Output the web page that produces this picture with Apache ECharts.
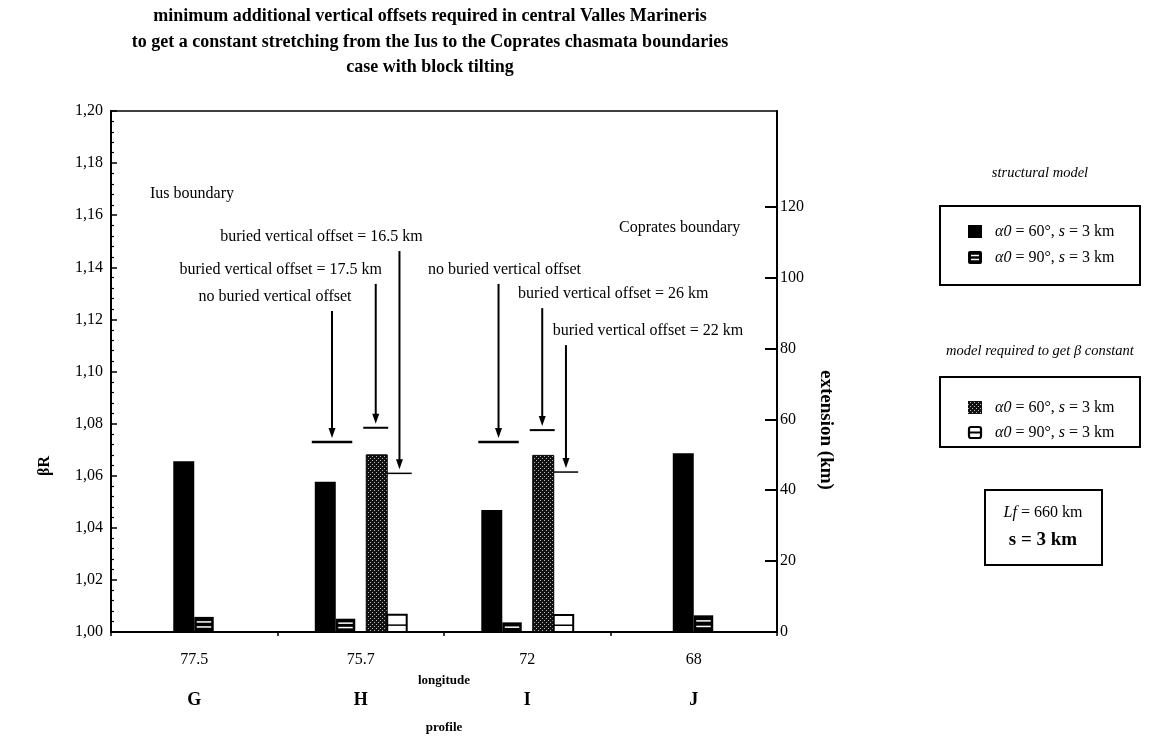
<!DOCTYPE html>
<html>
<head>
<meta charset="utf-8">
<script src="https://cdn.jsdelivr.net/npm/echarts@6/dist/echarts.min.js"></script>
<style>
  html, body { margin: 0; padding: 0; background: #fff; }
  #chart { width: 1156px; height: 747px; }
</style>
</head>
<body>
<div id="chart"></div>
<script>
const SERIF = '"Liberation Serif", "Times New Roman", serif';

// ---- data ----------------------------------------------------------------
const longitudes = ['77.5', '75.7', '72', '68'];
const profiles = ['G', 'H', 'I', 'J'];

// βR of the structural model (s = 3 km)
const structural60 = [1.0655, 1.0577, 1.0468, 1.0686];   // α0 = 60°
const structural90 = [1.0058, 1.0051, 1.0037, 1.0064];   // α0 = 90°

// βR of the model required to get β constant (profiles H and I only)
const required60 = [null, 1.0680, 1.0678, null];          // α0 = 60°
const required90 = [null, 1.0066, 1.0065, null];          // α0 = 90°

// βR levels reached without / with a buried vertical offset
const levelNoOffset = [null, 1.0729, 1.0729, null];
const levelOffset60 = [null, 1.0784, 1.0775, null];
const levelOffset90 = [null, 1.0609, 1.0614, null];
const buriedOffset60 = [null, 17.5, 26, null];            // km
const buriedOffset90 = [null, 16.5, 22, null];            // km

// axis ticks
const betaMin = 1.00, betaMax = 1.20, betaStep = 0.02;
const extensionTicks = [0, 20, 40, 60, 80, 100, 120];     // km
const extensionMax = 147;

// ---- callout placement: βR level of the text, shift of the text from its arrow (px)
const calloutPlacement = {
  '1-pair':  { textLevel: 1.1286, dx: -57 },
  '1-req60': { textLevel: 1.1390, dx: -95 },
  '1-req90': { textLevel: 1.1516, dx: -78 },
  '2-pair':  { textLevel: 1.1390, dx: 6 },
  '2-req60': { textLevel: 1.1297, dx: 71 },
  '2-req90': { textLevel: 1.1155, dx: 82 }
};

const callouts = [];
profiles.forEach((p, i) => {
  if (levelNoOffset[i] == null) return;
  callouts.push({ cat: i, slot: 'pair', level: levelNoOffset[i], text: 'no buried vertical offset' });
  callouts.push({ cat: i, slot: 'req60', level: levelOffset60[i], text: 'buried vertical offset = ' + buriedOffset60[i] + ' km' });
  callouts.push({ cat: i, slot: 'req90', level: levelOffset90[i], text: 'buried vertical offset = ' + buriedOffset90[i] + ' km' });
});

// ---- fill patterns -------------------------------------------------------
function makePattern(size, draw) {
  const c = document.createElement('canvas');
  c.width = size; c.height = size;
  draw(c.getContext('2d'), size);
  return { image: c, repeat: 'repeat' };
}
const dotPattern = makePattern(4, (ctx) => {
  ctx.fillStyle = '#111'; ctx.fillRect(0, 0, 4, 4);
  ctx.fillStyle = '#bbb'; ctx.fillRect(0, 0, 1, 1); ctx.fillRect(2, 2, 1, 1);
});

// ---- bar slot geometry inside a category band ----------------------------
function slots(api, i) {
  const band = api.size([1, 0])[0];
  const cx = api.coord([i, betaMin])[0];
  const w60 = band * 0.126, w90 = band * 0.117, gap = band * 0.066;
  const paired = required60[i] != null;
  const a = paired ? cx - gap / 2 - w90 - w60 : cx - w60;
  const c = cx + gap / 2;
  return {
    a: [a, w60], b: [a + w60, w90],
    c: [c, w60], d: [c + w60, w90]
  };
}

function stripedBar(x, y, w, h) {
  const kids = [{ type: 'rect', shape: { x, y, width: w, height: h }, style: { fill: '#000' } }];
  const n = Math.max(1, Math.round(h / 7));
  for (let k = 1; k <= n; k++) {
    const ly = y + (k * h) / (n + 1);
    kids.push({ type: 'line', shape: { x1: x + 2.5, y1: ly, x2: x + w - 2.5, y2: ly },
      style: { stroke: '#fff', lineWidth: 1.5 } });
  }
  return kids;
}

function openBar(x, y, w, h) {
  return [
    { type: 'rect', shape: { x, y, width: w, height: h }, style: { fill: '#fff', stroke: '#000', lineWidth: 2 } },
    { type: 'line', shape: { x1: x, y1: y + h * 0.6, x2: x + w, y2: y + h * 0.6 }, style: { stroke: '#000', lineWidth: 1.5 } }
  ];
}

function renderStructural(params, api) {
  const i = api.value(0);
  const s = slots(api, i);
  const base = api.coord([i, betaMin])[1];
  const y60 = api.coord([i, api.value(1)])[1];
  const y90 = api.coord([i, api.value(2)])[1];
  return {
    type: 'group',
    children: [
      { type: 'rect', shape: { x: s.a[0], y: y60, width: s.a[1], height: base - y60 }, style: { fill: '#000' } }
    ].concat(stripedBar(s.b[0], y90, s.b[1], base - y90))
  };
}

function renderRequired(params, api) {
  const i = api.value(0);
  const s = slots(api, i);
  const base = api.coord([i, betaMin])[1];
  const y60 = api.coord([i, api.value(1)])[1];
  const y90 = api.coord([i, api.value(2)])[1];
  return {
    type: 'group',
    children: [
      { type: 'rect', shape: { x: s.c[0], y: y60, width: s.c[1], height: base - y60 },
        style: { fill: dotPattern, stroke: '#000', lineWidth: 1 } }
    ].concat(openBar(s.d[0], y90, s.d[1], base - y90))
  };
}

function renderCallout(params, api) {
  const co = callouts[params.dataIndex];
  const place = calloutPlacement[co.cat + '-' + co.slot];
  const s = slots(api, co.cat);
  const y = api.coord([co.cat, co.level])[1];
  let x1, x2, lw;
  if (co.slot === 'pair') {
    x1 = s.a[0] - 3; x2 = s.b[0] + s.b[1] - 3; lw = 2.5;
  } else if (co.slot === 'req60') {
    x1 = s.c[0] - 3; x2 = s.c[0] + s.c[1] + 1; lw = 2;
  } else {
    x1 = s.d[0]; x2 = s.d[0] + s.d[1] + 5; lw = 1.5;
  }
  const ax = (x1 + x2) / 2;
  const ty = api.coord([co.cat, place.textLevel])[1];
  const top = ty + 14;
  const tip = y - 4;
  return {
    type: 'group',
    children: [
      { type: 'line', shape: { x1, y1: y, x2, y2: y }, style: { stroke: '#000', lineWidth: lw } },
      { type: 'line', shape: { x1: ax, y1: top, x2: ax, y2: tip - 8 }, style: { stroke: '#000', lineWidth: 2 } },
      { type: 'polygon', shape: { points: [[ax - 3.5, tip - 10], [ax + 3.5, tip - 10], [ax, tip]] }, style: { fill: '#000' } },
      { type: 'text', style: { text: co.text, x: ax + place.dx, y: ty, align: 'center', verticalAlign: 'middle',
          fontFamily: SERIF, fontSize: 16, fill: '#000' } }
    ]
  };
}

// ---- legend pieces -------------------------------------------------------
const itemRich = { i: { fontStyle: 'italic', fontFamily: SERIF, fontSize: 16, fill: '#000' } };
function legendText(x, y, text) {
  return { type: 'text', x, y, style: { text, rich: itemRich, fontFamily: SERIF, fontSize: 16,
    fill: '#000', verticalAlign: 'middle' } };
}
function iconSolid(x, y) {
  return { type: 'rect', shape: { x, y, width: 14, height: 13 }, style: { fill: '#000' } };
}
function iconStriped(x, y) {
  return { type: 'group', children: [
    { type: 'rect', shape: { x, y, width: 14, height: 13, r: 2 }, style: { fill: '#000' } },
    { type: 'line', shape: { x1: x + 3, y1: y + 4.5, x2: x + 11, y2: y + 4.5 }, style: { stroke: '#fff', lineWidth: 1.5 } },
    { type: 'line', shape: { x1: x + 3, y1: y + 8.5, x2: x + 11, y2: y + 8.5 }, style: { stroke: '#fff', lineWidth: 1.5 } }
  ] };
}
function iconDotted(x, y) {
  return { type: 'rect', shape: { x, y, width: 14, height: 13 }, style: { fill: dotPattern } };
}
function iconOpen(x, y) {
  return { type: 'group', children: [
    { type: 'rect', shape: { x: x + 1, y: y + 1, width: 12, height: 11, r: 2 }, style: { fill: '#fff', stroke: '#000', lineWidth: 2.2 } },
    { type: 'line', shape: { x1: x + 1, y1: y + 6.5, x2: x + 13, y2: y + 6.5 }, style: { stroke: '#000', lineWidth: 2 } }
  ] };
}

const chart = echarts.init(document.getElementById('chart'), null, { renderer: 'canvas' });

const axisColor = '#000';
chart.setOption({
  backgroundColor: '#fff',
  animation: false,
  title: {
    text: 'minimum additional vertical offsets required in central Valles Marineris\n' +
          'to get a constant stretching from the Ius to the Coprates chasmata boundaries\n' +
          'case with block tilting',
    left: 430, top: 4, padding: 0, textAlign: 'center',
    textStyle: { fontFamily: SERIF, fontSize: 18, fontWeight: 'bold', color: '#000', lineHeight: 25.5 }
  },
  grid: {
    left: 111, right: 379, top: 111, bottom: 115,
    show: true, borderColor: '#000', borderWidth: 1.5, backgroundColor: 'transparent'
  },
  xAxis: [
    {
      type: 'category', data: longitudes, position: 'bottom',
      axisLine: { lineStyle: { color: axisColor, width: 2 } },
      axisTick: { show: true, length: 4, lineStyle: { color: axisColor, width: 1.5 } },
      axisLabel: { margin: 20, color: '#000', fontFamily: SERIF, fontSize: 16 },
      splitLine: { show: false },
      name: 'longitude', nameLocation: 'middle', nameGap: 42,
      nameTextStyle: { fontFamily: SERIF, fontSize: 13, fontWeight: 'bold', color: '#000' }
    },
    {
      type: 'category', data: profiles, position: 'bottom',
      axisLine: { show: false }, axisTick: { show: false },
      axisLabel: { margin: 59, color: '#000', fontFamily: SERIF, fontSize: 18, fontWeight: 'bold' },
      splitLine: { show: false },
      name: 'profile', nameLocation: 'middle', nameGap: 89,
      nameTextStyle: { fontFamily: SERIF, fontSize: 13, fontWeight: 'bold', color: '#000' }
    }
  ],
  yAxis: [
    {
      type: 'value', position: 'left', min: betaMin, max: betaMax, interval: betaStep,
      axisLine: { show: true, lineStyle: { color: axisColor, width: 2 } },
      axisTick: { show: true, inside: true, length: 6, lineStyle: { color: axisColor, width: 1.5 } },
      minorTick: { show: true, splitNumber: 5, length: 3, lineStyle: { color: axisColor, width: 1.2 } },
      splitLine: { show: false },
      axisLabel: { margin: 8, color: '#000', fontFamily: SERIF, fontSize: 16,
        formatter: (v) => v.toFixed(2).replace('.', ',') }
    },
    {
      type: 'value', position: 'right', min: 0, max: extensionMax,
      axisLine: { show: true, lineStyle: { color: axisColor, width: 2 } },
      axisTick: { show: true, inside: true, length: 12, customValues: extensionTicks,
        lineStyle: { color: axisColor, width: 2 } },
      splitLine: { show: false },
      axisLabel: { margin: 3, color: '#000', fontFamily: SERIF, fontSize: 16, customValues: extensionTicks }
    }
  ],
  series: [
    {
      name: 'structural model', type: 'custom', xAxisIndex: 0, yAxisIndex: 0,
      renderItem: renderStructural,
      encode: { x: 0, y: [1, 2] },
      data: longitudes.map((c, i) => [i, structural60[i], structural90[i]])
    },
    {
      name: 'model required to get β constant', type: 'custom', xAxisIndex: 0, yAxisIndex: 0,
      renderItem: renderRequired,
      encode: { x: 0, y: [1, 2] },
      data: longitudes.map((c, i) => [i, required60[i], required90[i]]).filter((d) => d[1] != null)
    },
    {
      name: 'buried vertical offsets', type: 'custom', xAxisIndex: 0, yAxisIndex: 0,
      renderItem: renderCallout, clip: false,
      encode: { x: 0, y: 1 },
      data: callouts.map((c) => [c.cat, c.level])
    }
  ],
  graphic: [
    // axis names
    { type: 'text', x: 45, y: 466, rotation: Math.PI / 2,
      style: { text: 'βR', fontFamily: SERIF, fontSize: 16, fontWeight: 'bold', fill: '#000', align: 'center', verticalAlign: 'middle' } },
    { type: 'text', x: 826, y: 430, rotation: -Math.PI / 2,
      style: { text: 'extension (km)', fontFamily: SERIF, fontSize: 19, fontWeight: 'bold', fill: '#000', align: 'center', verticalAlign: 'middle' } },
    // chasma boundaries
    { type: 'text', x: 150, y: 194, style: { text: 'Ius boundary', fontFamily: SERIF, fontSize: 16, fill: '#000', verticalAlign: 'middle' } },
    { type: 'text', x: 619, y: 228, style: { text: 'Coprates boundary', fontFamily: SERIF, fontSize: 16, fill: '#000', verticalAlign: 'middle' } },
    // legend: structural model
    { type: 'text', x: 1040, y: 173, style: { text: 'structural model', fontFamily: SERIF, fontSize: 14.5, fontStyle: 'italic', fill: '#000', align: 'center', verticalAlign: 'middle' } },
    { type: 'rect', shape: { x: 940, y: 206, width: 200, height: 79 }, style: { fill: 'none', stroke: '#000', lineWidth: 2 } },
    iconSolid(968, 225), legendText(995, 232, '{i|α0} = 60°, {i|s} = 3 km'),
    iconStriped(968, 251), legendText(995, 258, '{i|α0} = 90°, {i|s} = 3 km'),
    // legend: model required to get β constant
    { type: 'text', x: 1040, y: 351, style: { text: 'model required to get β constant', fontFamily: SERIF, fontSize: 14.5, fontStyle: 'italic', fill: '#000', align: 'center', verticalAlign: 'middle' } },
    { type: 'rect', shape: { x: 940, y: 377, width: 200, height: 70 }, style: { fill: 'none', stroke: '#000', lineWidth: 2 } },
    iconDotted(968, 401), legendText(995, 408, '{i|α0} = 60°, {i|s} = 3 km'),
    iconOpen(968, 426), legendText(995, 433, '{i|α0} = 90°, {i|s} = 3 km'),
    // model parameters
    { type: 'rect', shape: { x: 985, y: 490, width: 117, height: 75 }, style: { fill: 'none', stroke: '#000', lineWidth: 2 } },
    { type: 'text', x: 1043, y: 513, style: { text: '{i|Lf} = 660 km', rich: itemRich, fontFamily: SERIF, fontSize: 16, fill: '#000', align: 'center', verticalAlign: 'middle' } },
    { type: 'text', x: 1043, y: 540, style: { text: 's = 3 km', fontFamily: SERIF, fontSize: 19, fontWeight: 'bold', fill: '#000', align: 'center', verticalAlign: 'middle' } }
  ]
});
</script>
</body>
</html>
